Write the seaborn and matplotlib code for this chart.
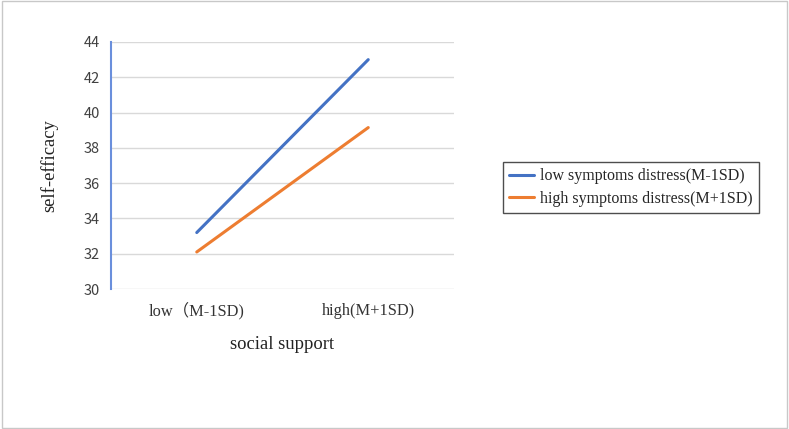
import numpy as np
import pandas as pd
import seaborn as sns
import matplotlib.pyplot as plt
from matplotlib.patches import Rectangle

# data
categories = ['low（M-1SD)', 'high(M+1SD)']
low_distress = [33.2, 43.0]
high_distress = [32.1, 39.15]
series_names = ['low symptoms distress(M-1SD)', 'high symptoms distress(M+1SD)']
y_ticks = [30, 32, 34, 36, 38, 40, 42, 44]

df = pd.DataFrame({
    'support': list(range(len(categories))) * 2,
    'efficacy': low_distress + high_distress,
    'group': [series_names[0]] * len(categories) + [series_names[1]] * len(categories),
})

sns.set_style('white')
serif = ['Liberation Serif', 'Noto Sans CJK SC']
sans = ['Noto Sans CJK SC', 'DejaVu Sans']
plt.rcParams['font.family'] = sans

fig = plt.figure(figsize=(7.89, 4.29), dpi=100)
ax = fig.add_axes([0.1407, 0.3263, 0.4347, 0.5758])

sns.lineplot(data=df, x='support', y='efficacy', hue='group',
             palette=['#4472C4', '#ED7D31'], linewidth=2.2, ax=ax, legend=False)

ax.set_xlim(-0.5, 1.5)
ax.set_ylim(30, 44)
ax.set_yticks(y_ticks)
ax.set_xticks(range(len(categories)))
ax.set_xticklabels(categories, family=serif, fontsize=11.8, color='#333333', va='baseline')
ax.tick_params(axis='y', labelsize=10.5, labelcolor='#404040', length=0, pad=8)
ax.tick_params(axis='x', length=0, pad=19)
ax.yaxis.grid(True, color='#d9d9d9', linewidth=1)
ax.set_axisbelow(True)
for s in ['top', 'right', 'bottom']:
    ax.spines[s].set_visible(False)
ax.spines['left'].set_color('#6a8fdc')
ax.spines['left'].set_linewidth(1.5)

ax.set_xlabel('social support', family=serif, fontsize=13.4, color='#222222', labelpad=12)
ax.set_ylabel('self-efficacy', family=serif, fontsize=13.4, color='#222222', labelpad=18)

handles = ax.get_lines()[:2]
leg = fig.legend(handles, series_names, loc='center left', bbox_to_anchor=(0.6375, 0.563),
                 borderaxespad=0, frameon=True, fancybox=False,
                 prop={'family': serif, 'size': 11.5},
                 handlelength=1.55, borderpad=0.4, labelspacing=0.4, handletextpad=0.35)
leg.get_frame().set_edgecolor('#222222')
leg.get_frame().set_linewidth(1)

fig.patches.append(Rectangle((0.002, 0.003), 0.996, 0.994, transform=fig.transFigure,
                             fill=False, edgecolor='#c8c8c8', linewidth=1))

fig.savefig('out.png', dpi=100)
